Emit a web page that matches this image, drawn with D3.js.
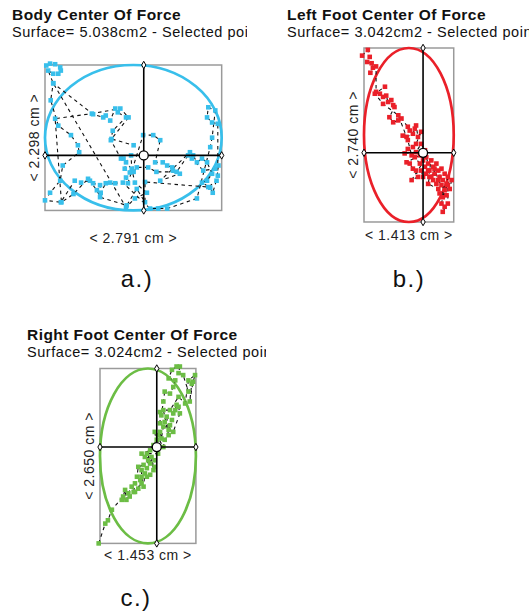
<!DOCTYPE html>
<html>
<head>
<meta charset="utf-8">
<script src="https://cdn.jsdelivr.net/npm/d3@7"></script>
<style>
  html, body { margin: 0; padding: 0; background: #fff; }
  svg { display: block; }
</style>
</head>
<body>
<svg id="chart" width="529" height="613"></svg>
<script>
/* Center of force sway plots: body, left foot, right foot */

// sample points in cm, measured from the bottom-left corner of each box
const bodyPts = [
  [0.02,2.29],[0.08,2.32],[0.16,2.31],[0.24,2.26],[0.25,2.21],[0.21,2.16],[0.13,2.16],[0.05,2.21],[0.13,2.01],
  [1.28,0.05],[1.42,0.19],[1.61,0.28],[1.42,0.44],[1.37,0.66],[1.36,0.87],[1.28,0.76],[1.26,0.66],[1.34,0.60],
  [1.28,0.52],[1.31,0.43],[1.55,1.19],[1.71,1.19],[1.82,1.11],[1.74,0.76],[1.86,0.76],[1.93,0.71],[2.01,0.68],
  [2.02,0.63],[2.13,0.58],[1.82,0.47],[2.29,0.92],[2.34,0.87],[2.40,0.76],[2.48,0.82],[2.56,0.76],[2.64,0.58],
  [2.56,0.47],[2.48,0.44],[2.61,0.36],[2.65,0.28],[2.73,0.55],[2.73,1.37],[2.64,1.39],[2.56,1.47],[2.58,1.63],
  [2.69,1.58],[2.64,1.15],[2.61,1.00],[2.40,0.19],[1.93,0.03],[1.79,0.03],[1.66,0.03],[1.23,0.44],[1.11,0.43],
  [1.03,0.44],[0.96,0.43],[0.88,0.28],[0.87,0.40],[0.76,0.43],[0.71,0.47],[0.57,0.44],[0.47,0.47],[0.25,0.13],
  [0.00,0.16],[0.08,0.28],[0.24,0.47],[0.28,0.71],[0.54,0.92],[0.52,1.03],[0.41,1.19],[0.21,1.34],[0.09,1.74],
  [0.13,2.01],[0.76,1.52],[0.92,1.47],[0.96,1.50],[1.03,1.42],[1.11,1.61],[1.15,1.55],[1.28,1.47],[1.07,1.26],
  [1.04,1.11],[1.20,0.82],[1.24,0.82],[1.40,0.61],[1.45,0.68],[1.63,0.68],[1.76,0.61],[2.08,0.61],[2.26,0.87],
  [2.32,0.82],[2.50,0.63],[2.69,0.66],[2.74,0.71],[2.71,0.47],[2.58,0.37],[1.58,0.45],[1.58,0.13],[1.45,0.34],
  [1.29,0.08],[0.87,0.21],[0.82,0.32],[0.68,0.50],[0.45,0.26],[0.26,0.13],[0.16,1.45],[0.74,1.53],[1.19,1.61],
  [1.32,1.47],[1.05,1.13],[1.40,1.03]
];

const leftPts = [
  [-0.03,2.62],[0.06,2.71],[0.09,2.60],[0.05,2.52],[0.12,2.50],[0.14,2.43],[0.10,2.35],[0.19,2.45],[0.19,2.05],
  [0.25,2.02],[0.30,1.97],[0.35,1.99],[0.38,1.89],[0.43,1.92],[0.46,1.84],[0.48,1.81],[0.40,1.65],[0.46,1.57],
  [0.54,1.60],[0.59,1.63],[0.69,1.50],[0.72,1.44],[0.61,1.36],[0.67,1.34],[0.77,1.39],[0.80,1.47],[0.82,1.52],
  [0.85,1.34],[0.90,1.42],[0.82,1.23],[0.77,1.18],[0.69,1.15],[0.64,1.08],[0.82,1.10],[0.90,1.23],[0.96,1.13],
  [0.88,1.05],[0.67,0.94],[0.72,0.92],[0.77,0.84],[0.82,0.81],[0.85,0.71],[0.75,0.66],[0.98,1.02],[1.01,0.92],
  [1.06,0.97],[1.03,0.81],[1.09,0.87],[1.11,0.76],[1.14,0.92],[1.17,0.81],[1.19,0.71],[1.22,0.84],[1.27,0.76],
  [1.24,0.66],[1.32,0.71],[1.30,0.60],[1.38,0.66],[1.35,0.52],[1.14,0.60],[1.09,0.66],[1.03,0.71],[1.01,0.60],
  [1.17,0.52],[1.30,0.42],[1.19,0.45],[1.24,0.39],[1.22,0.29],[1.27,0.24],[1.24,0.16],[1.32,0.29],[1.32,0.58],
  [1.27,0.50],[1.22,0.58],[1.17,0.66],[1.11,0.84],[1.06,0.71],[1.01,0.81],[0.98,0.76],[0.93,0.71],[0.90,0.81],
  [0.96,0.87],[0.93,0.97],[0.88,0.92],[0.80,1.02],[0.75,1.05],[0.69,1.29],[0.54,1.68],[0.30,1.86],[0.17,2.02],
  [0.33,2.13]
];

const rightPts = [
  [-0.02,0.00],[0.08,0.30],[0.12,0.35],[0.18,0.51],[0.35,0.71],[0.38,0.81],[0.40,0.66],[0.43,0.76],[0.48,0.86],
  [0.51,0.78],[0.53,0.91],[0.58,0.83],[0.61,0.96],[0.63,1.01],[0.66,0.86],[0.68,1.06],[0.56,1.01],[0.58,1.16],
  [0.66,1.19],[0.71,1.14],[0.73,1.26],[0.76,1.21],[0.78,1.31],[0.81,1.11],[0.83,1.26],[0.68,1.31],[0.63,1.36],
  [0.76,1.41],[0.81,1.49],[0.86,1.57],[0.88,1.64],[0.91,1.69],[0.93,1.59],[0.96,1.77],[0.98,1.84],[1.01,1.92],
  [1.04,1.72],[1.06,1.79],[1.09,1.87],[1.11,1.97],[1.14,2.02],[1.16,2.10],[1.19,2.07],[1.21,1.97],[1.11,1.69],
  [0.91,1.82],[0.91,1.99],[0.93,1.94],[0.96,2.15],[0.98,2.30],[1.06,2.27],[1.11,2.37],[1.14,2.47],[1.04,2.50],
  [1.09,2.63],[1.16,2.68],[1.21,2.68],[1.19,2.58],[1.26,2.55],[1.34,2.30],[1.39,2.42],[1.36,2.15],[1.41,2.45],
  [1.44,2.55],[1.34,2.47],[1.29,2.12],[1.19,2.22],[1.06,2.02],[0.96,2.02],[1.04,1.64],[0.98,1.57],[0.96,1.46],
  [0.83,1.69],[0.88,1.36],[0.71,1.36],[0.83,1.16],[0.76,1.04],[0.71,1.01],[0.63,1.11],[0.63,0.91],[0.53,0.78],
  [0.45,0.71],[0.33,0.66]
];

const titles   = ["Body Center Of Force", "Left Foot Center Of Force", "Right Foot Center Of Force"];
const surfaces = ["5.038", "3.042", "3.024"];
const widthsCm  = [2.791, 1.413, 1.453];
const heightsCm = [2.298, 2.740, 2.650];
const means     = [[1.56, 0.87], [0.93, 1.09], [0.86, 1.46]];
const captions  = ["a.)", "b.)", "c.)"];

const svg = d3.select("#chart");
const font = "Arial, 'Liberation Sans', sans-serif";

// layout of the three panels
const panels = [
  { pts: bodyPts,  color: "#38bfeb", left: 45,  top: 65,    k: 63.3, tx: 12,  ty: 20,  clip: 247, xlab: 33, cx: 137, cy: 287 },
  { pts: leftPts,  color: "#ea2029", left: 364, top: 48,    k: 63.5, tx: 287, ty: 20,  clip: 529, xlab: 18, cx: 409, cy: 287 },
  { pts: rightPts, color: "#6cbd45", left: 100, top: 368.5, k: 66,   tx: 27,  ty: 340, clip: 266, xlab: 17, cx: 136, cy: 606 }
];

panels.forEach((p, i) => {
  const W = widthsCm[i], H = heightsCm[i];
  const x = d3.scaleLinear().domain([0, W]).range([p.left, p.left + W * p.k]);
  const y = d3.scaleLinear().domain([0, H]).range([p.top + H * p.k, p.top]);
  const g = svg.append("g");

  // header text
  svg.append("clipPath").attr("id", "clip" + i)
    .append("rect").attr("x", 0).attr("y", p.ty - 20).attr("width", p.clip).attr("height", 40);
  g.append("text")
    .attr("x", p.tx).attr("y", p.ty)
    .attr("font-family", font).attr("font-size", "15.5px").attr("font-weight", "700")
    .attr("letter-spacing", "0.45px")
    .attr("fill", "#111")
    .text(titles[i]);
  g.append("text")
    .attr("x", p.tx).attr("y", p.ty + 17)
    .attr("font-family", font).attr("font-size", "14.5px")
    .attr("letter-spacing", "0.55px")
    .attr("fill", "#111")
    .attr("clip-path", `url(#clip${i})`)
    .text(`Surface= ${surfaces[i]}cm2 - Selected points`);

  // bounding box
  g.append("rect")
    .attr("x", x(0)).attr("y", y(H))
    .attr("width", x(W) - x(0)).attr("height", y(0) - y(H))
    .attr("fill", "none").attr("stroke", "#9a9a9a").attr("stroke-width", 1.5);

  // confidence ellipse
  g.append("ellipse")
    .attr("cx", x(W / 2)).attr("cy", y(H / 2))
    .attr("rx", (x(W) - x(0)) / 2).attr("ry", (y(0) - y(H)) / 2)
    .attr("fill", "none").attr("stroke", p.color).attr("stroke-width", 2.7);

  // trajectory
  g.append("path")
    .datum(p.pts)
    .attr("d", d3.line().x(d => x(d[0])).y(d => y(d[1])))
    .attr("fill", "none").attr("stroke", "#111")
    .attr("stroke-width", 1.1).attr("stroke-dasharray", "3.5,3.5");

  // points
  g.append("g")
    .selectAll("rect")
    .data(p.pts)
    .join("rect")
    .attr("x", d => x(d[0]) - 2.3).attr("y", d => y(d[1]) - 2.3)
    .attr("width", 4.6).attr("height", 4.6)
    .attr("fill", p.color);

  // cross through mean
  const [mx, my] = means[i];
  const cross = [
    [[0, my], [W, my]],
    [[mx, 0], [mx, H]]
  ];
  g.append("g")
    .selectAll("line")
    .data(cross)
    .join("line")
    .attr("x1", d => x(d[0][0])).attr("y1", d => y(d[0][1]))
    .attr("x2", d => x(d[1][0])).attr("y2", d => y(d[1][1]))
    .attr("stroke", "#000").attr("stroke-width", 1.6);

  g.append("g")
    .selectAll("path")
    .data(cross.flat())
    .join("path")
    .attr("d", d3.symbol(d3.symbolDiamond, 16))
    .attr("transform", d => `translate(${x(d[0])},${y(d[1])})`)
    .attr("fill", "#fff").attr("stroke", "#000").attr("stroke-width", 1);

  g.append("circle")
    .attr("cx", x(mx)).attr("cy", y(my)).attr("r", 4.5)
    .attr("fill", "#fff").attr("stroke", "#000").attr("stroke-width", 1.3);

  // dimension labels
  g.append("text")
    .attr("x", x(W / 2)).attr("y", y(0) + p.xlab)
    .attr("text-anchor", "middle")
    .attr("font-family", font).attr("font-size", "14px").attr("fill", "#222")
    .attr("letter-spacing", "0.5px")
    .text(`< ${widthsCm[i].toFixed(3)} cm >`);
  g.append("text")
    .attr("transform", `translate(${x(0) - 6},${y(H / 2)}) rotate(-90)`)
    .attr("text-anchor", "middle")
    .attr("font-family", font).attr("font-size", "14px").attr("fill", "#222")
    .attr("letter-spacing", "0.5px")
    .text(`< ${heightsCm[i].toFixed(3)} cm >`);

  // caption
  g.append("text")
    .attr("x", p.cx).attr("y", p.cy)
    .attr("text-anchor", "middle")
    .attr("font-family", font).attr("font-size", "24px").attr("fill", "#111")
    .attr("letter-spacing", "1.5px")
    .text(captions[i]);
});
</script>
</body>
</html>
